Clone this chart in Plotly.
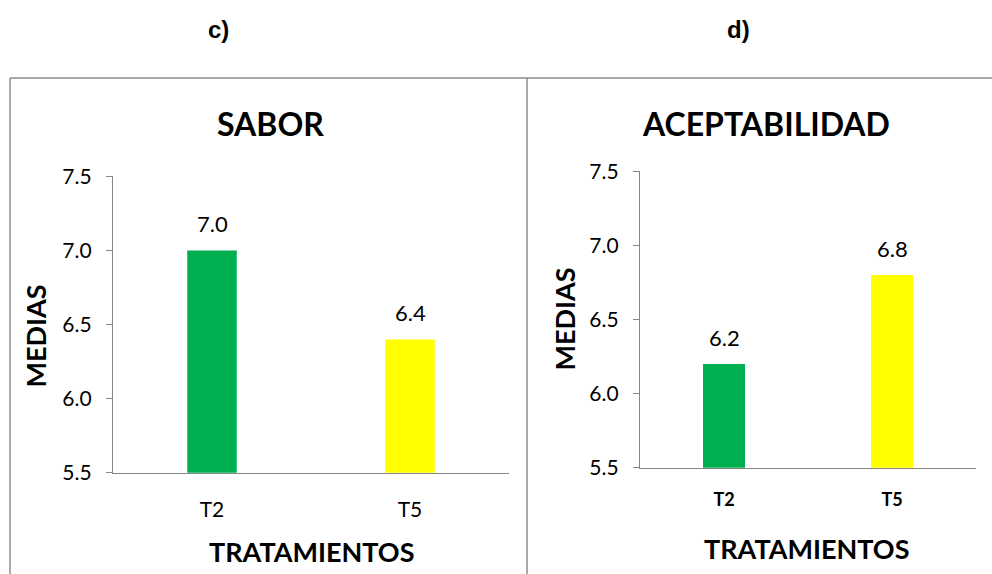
import plotly.graph_objects as go

# Mean sensory scores per treatment
tratamientos = ["T2", "T5"]
sabor = [7.0, 6.4]
aceptabilidad = [6.2, 6.8]
bar_colors = ["#00B050", "#FFFF00"]
y_ticks = [5.5, 6.0, 6.5, 7.0, 7.5]

W, H = 992, 574
# the figure body is drawn 548 px tall, centred vertically in the page
H_DRAW, Y_OFF = 548, 13
FONT = "Lato, Calibri, Carlito, sans-serif"
AXIS_GREY = "#868686"


def px_x(x):
    return x / W


def px_y(y):
    return 1 - (y - Y_OFF) / H_DRAW


fig = go.Figure()

fig.add_trace(go.Bar(x=tratamientos, y=sabor, marker_color=bar_colors,
                     marker_line_width=0, width=0.25, xaxis="x", yaxis="y",
                     showlegend=False, hoverinfo="x+y"))
fig.add_trace(go.Bar(x=tratamientos, y=aceptabilidad, marker_color=bar_colors,
                     marker_line_width=0, width=0.25, xaxis="x2", yaxis="y2",
                     showlegend=False, hoverinfo="x+y"))

yaxis_common = dict(range=[5.5, 7.5], tickvals=y_ticks,
                    ticktext=[f"{v:.1f}" for v in y_ticks],
                    showgrid=False, zeroline=False, showline=True,
                    linecolor=AXIS_GREY, linewidth=1.3, ticks="outside",
                    ticklen=6, tickcolor=AXIS_GREY, ticklabelstandoff=10,
                    tickfont=dict(family=FONT, size=21, color="#000"))
xaxis_common = dict(showgrid=False, zeroline=False, showline=True,
                    linecolor=AXIS_GREY, linewidth=1.3, ticks="",
                    range=[-0.5, 1.5])

fig.update_layout(
    width=W, height=H, margin=dict(l=0, r=0, t=0, b=0),
    paper_bgcolor="white", plot_bgcolor="white",
    xaxis=dict(domain=[px_x(113), px_x(509)], anchor="y",
               ticklabelstandoff=18,
               tickfont=dict(family=FONT, size=21, color="#000"),
               **xaxis_common),
    yaxis=dict(domain=[px_y(471), px_y(175)], anchor="x", **yaxis_common),
    xaxis2=dict(domain=[px_x(640), px_x(976)], anchor="y2",
                ticklabelstandoff=15,
                tickfont=dict(family=FONT, size=18, color="#000",
                              weight="bold"),
                **xaxis_common),
    yaxis2=dict(domain=[px_y(466), px_y(170)], anchor="x2", **yaxis_common),
)

annotations = []

# Value labels above each bar
for xref, yref, vals in (("x", "y", sabor), ("x2", "y2", aceptabilidad)):
    for cat, v in zip(tratamientos, vals):
        annotations.append(dict(x=cat, y=v, xref=xref, yref=yref,
                                text=f"{v:.1f}", showarrow=False,
                                yanchor="middle", yshift=27,
                                font=dict(family=FONT, size=22, color="#000")))

# Panel letters, chart titles and axis titles
text_items = [
    ("c)", 218, 28, 24, "Liberation Sans, Arial, sans-serif", 0),
    ("d)", 738, 28, 24, "Liberation Sans, Arial, sans-serif", 0),
    ("SABOR", 270, 122, 32, FONT, 0),
    ("ACEPTABILIDAD", 766, 122, 32, FONT, 0),
    ("TRATAMIENTOS", 311, 550, 27, FONT, 0),
    ("TRATAMIENTOS", 806, 547, 27, FONT, 0),
    ("MEDIAS", 36, 335, 27, FONT, -90),
    ("MEDIAS", 565, 318, 27, FONT, -90),
]
for text, x, y, size, fam, angle in text_items:
    annotations.append(dict(x=px_x(x), y=px_y(y), xref="paper", yref="paper",
                            text=f"<b>{text}</b>", showarrow=False,
                            xanchor="center", yanchor="middle",
                            textangle=angle,
                            font=dict(family=fam, size=size, color="#000")))

fig.update_layout(annotations=annotations)

# Panel frames
BORDER = "#8C8C8C"
frame_lines = [
    (10, 77, 992, 77),
    (10, 77, 10, 600),
    (527, 77, 527, 600),
]
fig.update_layout(shapes=[
    dict(type="line", xref="paper", yref="paper",
         x0=px_x(x0), y0=px_y(y0), x1=px_x(x1), y1=px_y(y1),
         line=dict(color=BORDER, width=1.5))
    for x0, y0, x1, y1 in frame_lines
])

fig.write_html("out.html")
